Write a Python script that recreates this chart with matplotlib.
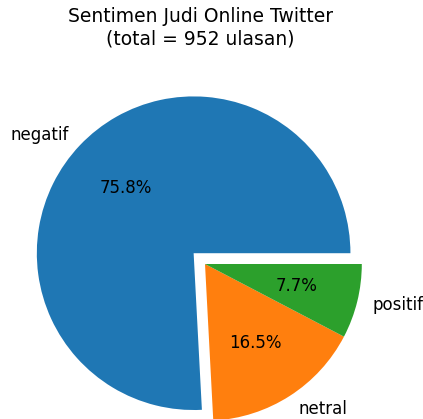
import matplotlib.pyplot as plt

labels = ['negatif', 'netral', 'positif']
counts = [722, 157, 73]
explode = [0.1, 0, 0]
total = sum(counts)

fig = plt.figure(figsize=(4.23, 4.19), dpi=100)
ax = fig.add_axes([9 / 423, -41 / 419, 392 / 423, 392 / 419])
ax.pie(counts, labels=labels, explode=explode, autopct='%1.1f%%',
       textprops={'fontsize': 12})
ax.set_title(f'Sentimen Judi Online Twitter\n(total = {total} ulasan)',
             fontsize=13.5, pad=17, x=0.488)

fig.savefig('out.png', dpi=100)
